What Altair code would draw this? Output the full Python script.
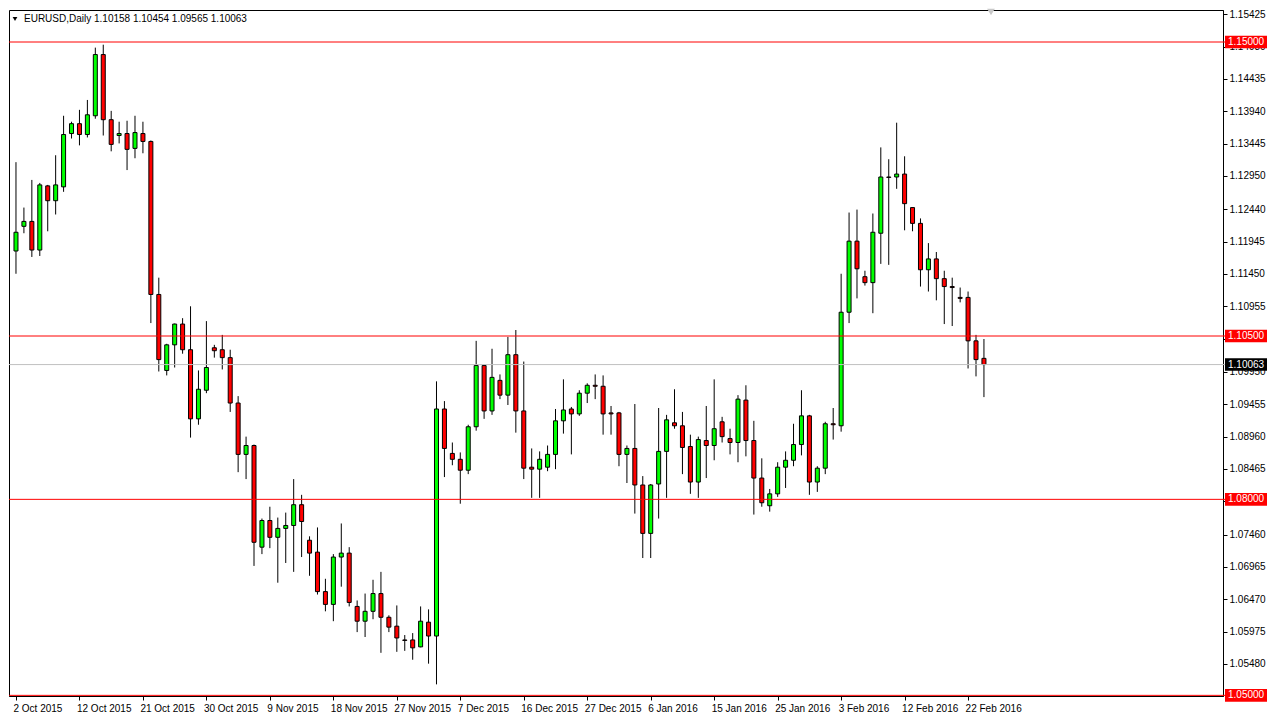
import altair as alt
import pandas as pd

symbol = "EURUSD,Daily"
header_values = [1.10158, 1.10454, 1.09565, 1.10063]

opens = [1.11801, 1.12179, 1.12254, 1.11816, 1.12798, 1.12571, 1.12783, 1.13599, 1.13750, 1.13584,
         1.13871, 1.14808, 1.13811, 1.13569, 1.13599, 1.13372, 1.13599, 1.13478, 1.11136, 1.09973,
         1.10365, 1.10683, 1.10290, 1.09232, 1.09670, 1.10320, 1.10290, 1.10169, 1.09474, 1.08688,
         1.08824, 1.07268, 1.07676, 1.07419, 1.07555, 1.07600, 1.07918, 1.07374, 1.07192, 1.06588,
         1.06392, 1.07117, 1.07177, 1.06361, 1.06135, 1.06286, 1.06558, 1.06195, 1.06059, 1.05848,
         1.05848, 1.05742, 1.06120, 1.05908, 1.09383, 1.08703, 1.08613, 1.08446, 1.09111, 1.10048,
         1.09353, 1.09821, 1.09595, 1.10214, 1.09353, 1.08492, 1.08462, 1.08492, 1.08688, 1.09202,
         1.09383, 1.09308, 1.09625, 1.09746, 1.09731, 1.09323, 1.09323, 1.08688, 1.08779, 1.08220,
         1.07479, 1.08235, 1.08734, 1.09172, 1.09126, 1.08809, 1.08265, 1.08900, 1.08824, 1.09187,
         1.08930, 1.08870, 1.09519, 1.08900, 1.08326, 1.07902, 1.08084, 1.08492, 1.08598, 1.08839,
         1.09278, 1.08265, 1.08477, 1.09157, 1.09126, 1.10864, 1.11952, 1.11408, 1.11317, 1.12073,
         1.12934, 1.12934, 1.12979, 1.12466, 1.12224, 1.11514, 1.11680, 1.11378, 1.11257, 1.11091,
         1.11091, 1.10426, 1.10158]
highs = [1.13161, 1.12466, 1.12889, 1.12843, 1.12813, 1.13267, 1.13871, 1.13780, 1.13962, 1.14113,
         1.14914, 1.14959, 1.13946, 1.13780, 1.13795, 1.13871, 1.13780, 1.13493, 1.11393, 1.10381,
         1.10690, 1.10773, 1.10955, 1.09973, 1.10728, 1.10365, 1.10517, 1.10290, 1.09580, 1.08960,
         1.08839, 1.07706, 1.07887, 1.07721, 1.07797, 1.08310, 1.08069, 1.07434, 1.07570, 1.06784,
         1.07162, 1.07631, 1.07268, 1.06452, 1.06558, 1.06769, 1.06890, 1.06225, 1.06376, 1.05923,
         1.05953, 1.06361, 1.06316, 1.09806, 1.09504, 1.08870, 1.08718, 1.09142, 1.10426, 1.10063,
         1.10305, 1.09912, 1.10486, 1.10592, 1.10109, 1.08779, 1.08734, 1.08824, 1.09383, 1.09837,
         1.09414, 1.09670, 1.09776, 1.09912, 1.09897, 1.09429, 1.09338, 1.08824, 1.09459, 1.08356,
         1.08235, 1.09398, 1.09293, 1.09685, 1.09338, 1.08990, 1.08960, 1.09429, 1.09837, 1.09263,
         1.09081, 1.09595, 1.09746, 1.09202, 1.08628, 1.08159, 1.08568, 1.08734, 1.09157, 1.09670,
         1.09293, 1.08507, 1.09187, 1.09398, 1.11453, 1.12390, 1.12435, 1.11499, 1.12375, 1.13387,
         1.13206, 1.13765, 1.13251, 1.12470, 1.12300, 1.11922, 1.11786, 1.11499, 1.11393, 1.11242,
         1.11181, 1.10517, 1.10454]
lows = [1.11453, 1.12073, 1.11710, 1.11725, 1.12103, 1.12360, 1.12707, 1.13523, 1.13418, 1.13539,
        1.13826, 1.13569, 1.13327, 1.13448, 1.13040, 1.13221, 1.13297, 1.10698, 1.09957, 1.09897,
        1.10018, 1.10229, 1.08945, 1.09142, 1.09625, 1.10169, 1.09988, 1.09338, 1.08416, 1.08310,
        1.06981, 1.07162, 1.07253, 1.06724, 1.07026, 1.06890, 1.07117, 1.06830, 1.06543, 1.06286,
        1.06135, 1.06663, 1.06361, 1.05968, 1.05893, 1.06165, 1.05651, 1.05968, 1.05666, 1.05681,
        1.05545, 1.05735, 1.05485, 1.05168, 1.08341, 1.08522, 1.07933, 1.08386, 1.09051, 1.09232,
        1.09293, 1.09534, 1.09444, 1.09021, 1.08310, 1.08023, 1.08023, 1.08431, 1.08462, 1.09006,
        1.08688, 1.09278, 1.09474, 1.09534, 1.08990, 1.08990, 1.08507, 1.08250, 1.07782, 1.07102,
        1.07102, 1.07706, 1.08023, 1.09081, 1.08386, 1.08084, 1.08023, 1.08326, 1.08598, 1.08870,
        1.08688, 1.08568, 1.08658, 1.07767, 1.07887, 1.07812, 1.08038, 1.08174, 1.08507, 1.08673,
        1.08069, 1.08114, 1.08386, 1.08915, 1.09036, 1.10698, 1.11076, 1.11272, 1.10849, 1.11604,
        1.11589, 1.12753, 1.12118, 1.12103, 1.11257, 1.11181, 1.11046, 1.10683, 1.10653, 1.11015,
        1.10003, 1.09882, 1.09565]
closes = [1.12088, 1.12254, 1.11816, 1.12813, 1.12571, 1.12813, 1.13584, 1.13750, 1.13584, 1.13886,
          1.14808, 1.13811, 1.13433, 1.13599, 1.13357, 1.13614, 1.13478, 1.11136, 1.10139, 1.10365,
          1.10683, 1.10290, 1.09232, 1.09685, 1.10018, 1.10275, 1.10169, 1.09474, 1.08688, 1.08824,
          1.07343, 1.07676, 1.07419, 1.07555, 1.07600, 1.07918, 1.07661, 1.07177, 1.06588, 1.06392,
          1.07117, 1.07177, 1.06422, 1.06135, 1.06286, 1.06558, 1.06195, 1.06044, 1.05878, 1.05840,
          1.05727, 1.06135, 1.05908, 1.09383, 1.08779, 1.08613, 1.08446, 1.09111, 1.10048, 1.09353,
          1.09867, 1.09595, 1.10214, 1.09353, 1.08477, 1.08462, 1.08613, 1.08688, 1.09202, 1.09368,
          1.09308, 1.09625, 1.09746, 1.09731, 1.09308, 1.09308, 1.08688, 1.08779, 1.08220, 1.07479,
          1.08220, 1.08734, 1.09217, 1.09126, 1.08794, 1.08265, 1.08915, 1.08824, 1.09081, 1.08960,
          1.08870, 1.09534, 1.08900, 1.08326, 1.07948, 1.08084, 1.08492, 1.08598, 1.08839, 1.09278,
          1.08265, 1.08477, 1.09157, 1.09142, 1.10864, 1.11952, 1.11529, 1.11317, 1.12088, 1.12934,
          1.12927, 1.12979, 1.12526, 1.12224, 1.11514, 1.11680, 1.11378, 1.11257, 1.11242, 1.11076,
          1.10426, 1.10139, 1.10063]

date_label_bars = [0, 8, 16, 24, 32, 40, 48, 56, 64, 72, 80, 88, 96, 104, 112, 120]
date_labels = ["2 Oct 2015", "12 Oct 2015", "21 Oct 2015", "30 Oct 2015", "9 Nov 2015",
               "18 Nov 2015", "27 Nov 2015", "7 Dec 2015", "16 Dec 2015", "27 Dec 2015",
               "6 Jan 2016", "15 Jan 2016", "25 Jan 2016", "3 Feb 2016", "12 Feb 2016",
               "22 Feb 2016"]

price_ticks = [1.15425, 1.14930, 1.14435, 1.13940, 1.13445, 1.12950, 1.12440, 1.11945,
               1.11450, 1.10955, 1.10460, 1.09950, 1.09455, 1.08960, 1.08465, 1.07970,
               1.07460, 1.06965, 1.06470, 1.05975, 1.05480]
levels = [1.15000, 1.10500, 1.08000, 1.05000]
last_price = 1.10063

FONT = "Liberation Sans"
W, H = 1214, 686
BAR_PX = 8

df = pd.DataFrame({"bar": list(range(len(opens))), "open": opens, "high": highs,
                   "low": lows, "close": closes})
df_levels = pd.DataFrame({"p": levels})
df_last = pd.DataFrame({"p": [last_price]})
header_text = symbol + "  " + " ".join(f"{v:.5f}" for v in header_values)
df_header = pd.DataFrame({"t": [header_text]})

xs = alt.Scale(domain=[-0.25, W / BAR_PX - 0.25], nice=False, zero=False)
ys = alt.Scale(domain=[1.0499, 1.1549], nice=False, zero=False)

label_expr = "[" + ",".join("'" + s + "'" for s in date_labels) + "][datum.value / 8]"

x_axis = alt.Axis(values=date_label_bars, labelExpr=label_expr, labelAlign="left", labelAngle=0,
                  labelPadding=3, labelOffset=-3, tickSize=4, grid=False, title=None,
                  labelOverlap=False, labelBaseline="top", orient="bottom")
y_axis = alt.Axis(orient="right", values=price_ticks, format=".5f", tickSize=4, labelPadding=2,
                  grid=False, title=None, labelOverlap=False, labelBaseline="middle")

X = alt.X("bar:Q", scale=xs, axis=x_axis)

base = alt.Chart(df)

wicks = base.mark_rule(color="black", strokeWidth=1).encode(
    x=X,
    y=alt.Y("low:Q", scale=ys, axis=y_axis),
    y2="high:Q",
)

bodies = base.mark_bar(size=4, stroke="black", strokeWidth=1).encode(
    x=X,
    y=alt.Y("open:Q", scale=ys, axis=y_axis),
    y2="close:Q",
    fill=alt.condition("datum.close >= datum.open", alt.value("#00FF00"), alt.value("#FF0000")),
)

def py(field="p"):
    return alt.Y(f"{field}:Q", scale=ys, axis=y_axis)

level_lines = alt.Chart(df_levels).mark_rule(color="#FF0000", strokeWidth=1).encode(
    y=py(), x=alt.value(0), x2=alt.value(W + 2),
)
last_line = alt.Chart(df_last).mark_rule(color="#C0C0C0", strokeWidth=1).encode(
    y=py(), x=alt.value(0), x2=alt.value(W + 2),
)

box_shape = "M-1,-0.3L1,-0.3L1,0.3L-1,0.3Z"
level_boxes = alt.Chart(df_levels).mark_point(shape=box_shape, filled=True, size=42 * 42,
                                               fill="#FF0000", strokeWidth=0, opacity=1).encode(
    y=py(), x=alt.value(W + 23))
last_box = alt.Chart(df_last).mark_point(shape=box_shape, filled=True, size=42 * 42,
                                         fill="#000000", strokeWidth=0, opacity=1).encode(
    y=py(), x=alt.value(W + 23))

level_text = alt.Chart(df_levels).mark_text(align="left", baseline="middle", color="white",
                                            font=FONT, fontSize=10).encode(
    y=py(), x=alt.value(W + 5), text=alt.Text("p:Q", format=".5f"))
last_text = alt.Chart(df_last).mark_text(align="left", baseline="middle", color="white",
                                         font=FONT, fontSize=10).encode(
    y=py(), x=alt.value(W + 5), text=alt.Text("p:Q", format=".5f"))

header_tri = alt.Chart(df_header).mark_point(shape="triangle-down", filled=True, size=22,
                                             color="black", opacity=1).encode(
    x=alt.value(6), y=alt.value(9))
header = alt.Chart(df_header).mark_text(align="left", baseline="middle", color="black",
                                        font=FONT, fontSize=10).encode(
    x=alt.value(15), y=alt.value(9), text="t:N")
shift_tri = alt.Chart(df_header).mark_point(shape="triangle-down", filled=True, size=60,
                                            color="#C8C8C8", opacity=1).encode(
    x=alt.value(982), y=alt.value(2))

chart = alt.layer(
    wicks, bodies, level_lines, last_line, level_boxes, last_box, level_text, last_text,
    header_tri, header, shift_tri,
).properties(
    width=W, height=H, padding=0, background="white"
).configure_view(
    stroke="black", strokeWidth=1
).configure_axis(
    labelFont=FONT, labelFontSize=10, labelColor="black", tickColor="black",
    domainColor="black", domainWidth=1, tickWidth=1
)

chart.save("out.html", embed_options={"renderer": "svg", "actions": False})
